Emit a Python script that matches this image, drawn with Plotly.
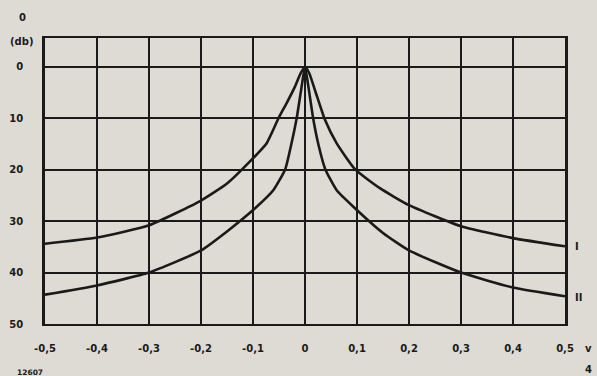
import plotly.graph_objects as go

# Curve I (upper)
v_I = [-0.5, -0.4, -0.3, -0.2, -0.15, -0.103, -0.074, -0.051, -0.035, -0.02, -0.008, 0.0,
       0.008, 0.02, 0.038, 0.061, 0.096, 0.144, 0.2, 0.3, 0.4, 0.5]
db_I = [34.4, 33.2, 30.8, 26.0, 22.7, 18.1, 14.9, 10.0, 7.0, 4.0, 1.2, 0.0,
        1.2, 4.8, 10.2, 14.9, 19.9, 23.6, 26.9, 31.0, 33.3, 34.9]
# Curve II (lower)
v_II = [-0.5, -0.4, -0.3, -0.2, -0.15, -0.096, -0.061, -0.038, -0.026, -0.016, -0.007, 0.0,
        0.007, 0.016, 0.026, 0.039, 0.061, 0.093, 0.15, 0.2, 0.3, 0.4, 0.5]
db_II = [44.3, 42.5, 40.0, 35.7, 32.0, 27.5, 24.0, 19.9, 14.9, 10.0, 4.2, 0.0,
         4.2, 10.2, 15.2, 19.9, 24.0, 27.2, 32.3, 35.7, 40.0, 42.9, 44.6]

x_ticks = [-0.5, -0.4, -0.3, -0.2, -0.1, 0, 0.1, 0.2, 0.3, 0.4, 0.5]
x_labels = ["-0,5", "-0,4", "-0,3", "-0,2", "-0,1", "0", "0,1", "0,2", "0,3", "0,4", "0,5"]
y_ticks = [0, 10, 20, 30, 40, 50]
y_labels = ["0", "10", "20", "30", "40", "50"]

ink = "#1a1a1a"
paper = "#dedad4"
tfont = dict(family="DejaVu Sans", size=10, color=ink, weight="bold")

fig = go.Figure()
for xs, ys in [(v_I, db_I), (v_II, db_II)]:
    fig.add_trace(go.Scatter(x=xs, y=ys, mode="lines",
                             line=dict(color=ink, width=2.6, shape="spline", smoothing=0.5),
                             showlegend=False, hoverinfo="skip"))

# plot area at page x 45..565, y 38..324
fig.update_layout(
    width=597, height=376,
    margin=dict(l=45, r=32, t=38, b=52, autoexpand=False),
    paper_bgcolor=paper, plot_bgcolor=paper,
    font=tfont,
    xaxis=dict(range=[-0.5, 0.5], tickvals=x_ticks, ticktext=x_labels, automargin=False,
               showgrid=True, gridcolor=ink, gridwidth=1.6, zeroline=False,
               showline=True, linecolor=ink, linewidth=2.2, mirror=True,
               ticks="", ticklabelstandoff=14, tickfont=tfont),
    yaxis=dict(range=[50, -5.6], tickvals=y_ticks, ticktext=y_labels, automargin=False,
               showgrid=True, gridcolor=ink, gridwidth=1.6, zeroline=False,
               showline=True, linecolor=ink, linewidth=2.6, mirror=True,
               ticks="", ticklabelstandoff=17, tickfont=tfont),
)

ann = [
    ("0", 22, 18, 10), ("(db)", 21, 41, 10), ("I", 577, 246, 10), ("II", 578, 297, 10),
    ("v", 588, 348, 10), ("4", 588, 369, 10), ("12607", 30, 372, 7.5),
]
for t, px, py, s in ann:
    fig.add_annotation(text=t, x=(px - 45) / 520, y=1 - (py - 38) / 286,
                       xref="paper", yref="paper",
                       showarrow=False, xanchor="center", yanchor="middle",
                       font=dict(family="DejaVu Sans", size=s, color=ink, weight="bold"))

fig.write_html("out.html", config={"displayModeBar": False},
               post_script="document.body.style.margin='0';document.body.style.background='%s';" % paper)
